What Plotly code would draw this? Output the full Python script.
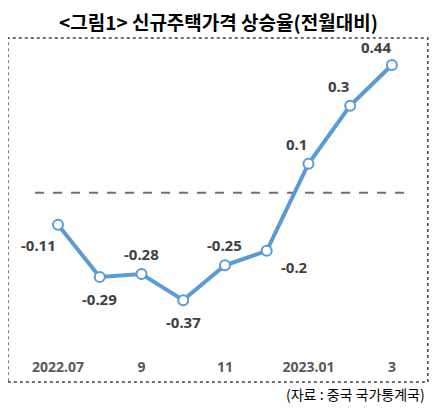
import plotly.graph_objects as go

months = ["2022.07","2022.08","2022.09","2022.10","2022.11","2022.12","2023.01","2023.02","2023.03"]
values = [-0.11,-0.29,-0.28,-0.37,-0.25,-0.2,0.1,0.3,0.44]
tick_idx = [0,2,4,6,8]
tick_text = ["2022.07","9","11","2023.01","3"]
offsets = [(-20,-20),(0,-22),(0,20),(0,-22),(0,20),(28,-16),(-12,20),(-12,20),(-16,18)]

x = list(range(len(values)))
fig = go.Figure()
fig.add_trace(go.Scatter(x=x, y=values, mode="lines+markers",
    line=dict(color="#5B9BD5", width=4),
    marker=dict(size=10, color="white", line=dict(color="#5B9BD5", width=2))))
ann = []
for i,(v,(dx,dy)) in enumerate(zip(values,offsets)):
    ann.append(dict(x=i, y=v, text=f"<b>{v:g}</b>", showarrow=False, xshift=dx, yshift=dy,
                    font=dict(size=15, color="#404040", family="Noto Sans")))
ann.append(dict(xref="paper", yref="paper", x=0.5, y=1.13, text="<b>&lt;그림1&gt; 신규주택가격 상승율(전월대비)</b>",
                showarrow=False, font=dict(size=19, color="black", family="Noto Sans CJK KR")))
ann.append(dict(xref="paper", yref="paper", x=1.0, xanchor="right", y=-0.12, yanchor="top",
                text="(자료 : 중국 국가통계국)", showarrow=False,
                font=dict(size=14, color="black", family="Noto Sans CJK KR")))
fig.update_layout(
    width=421, height=400, margin=dict(l=2, r=2, t=37, b=62),
    paper_bgcolor="white", plot_bgcolor="white", showlegend=False,
    annotations=ann,
    xaxis=dict(range=[-1.15, 8.84], tickvals=tick_idx, ticktext=tick_text, showgrid=False,
               zeroline=False, showline=False, ticks="", ticklabelstandoff=11,
               tickfont=dict(size=14, color="#595959", family="Noto Sans", weight="bold")),
    yaxis=dict(range=[-0.528, 0.509], visible=False),
    shapes=[
        dict(type="line", xref="x", yref="y", x0=-0.55, x1=8.43, y0=0, y1=0,
             line=dict(color="#707070", width=2, dash="dash"), layer="below"),
        dict(type="rect", xref="paper", yref="paper", x0=-0.005, x1=1.002, y0=-0.12, y1=1.023,
             line=dict(color="#404040", width=1.5, dash="dot")),
    ])
fig.write_html("out.html")
